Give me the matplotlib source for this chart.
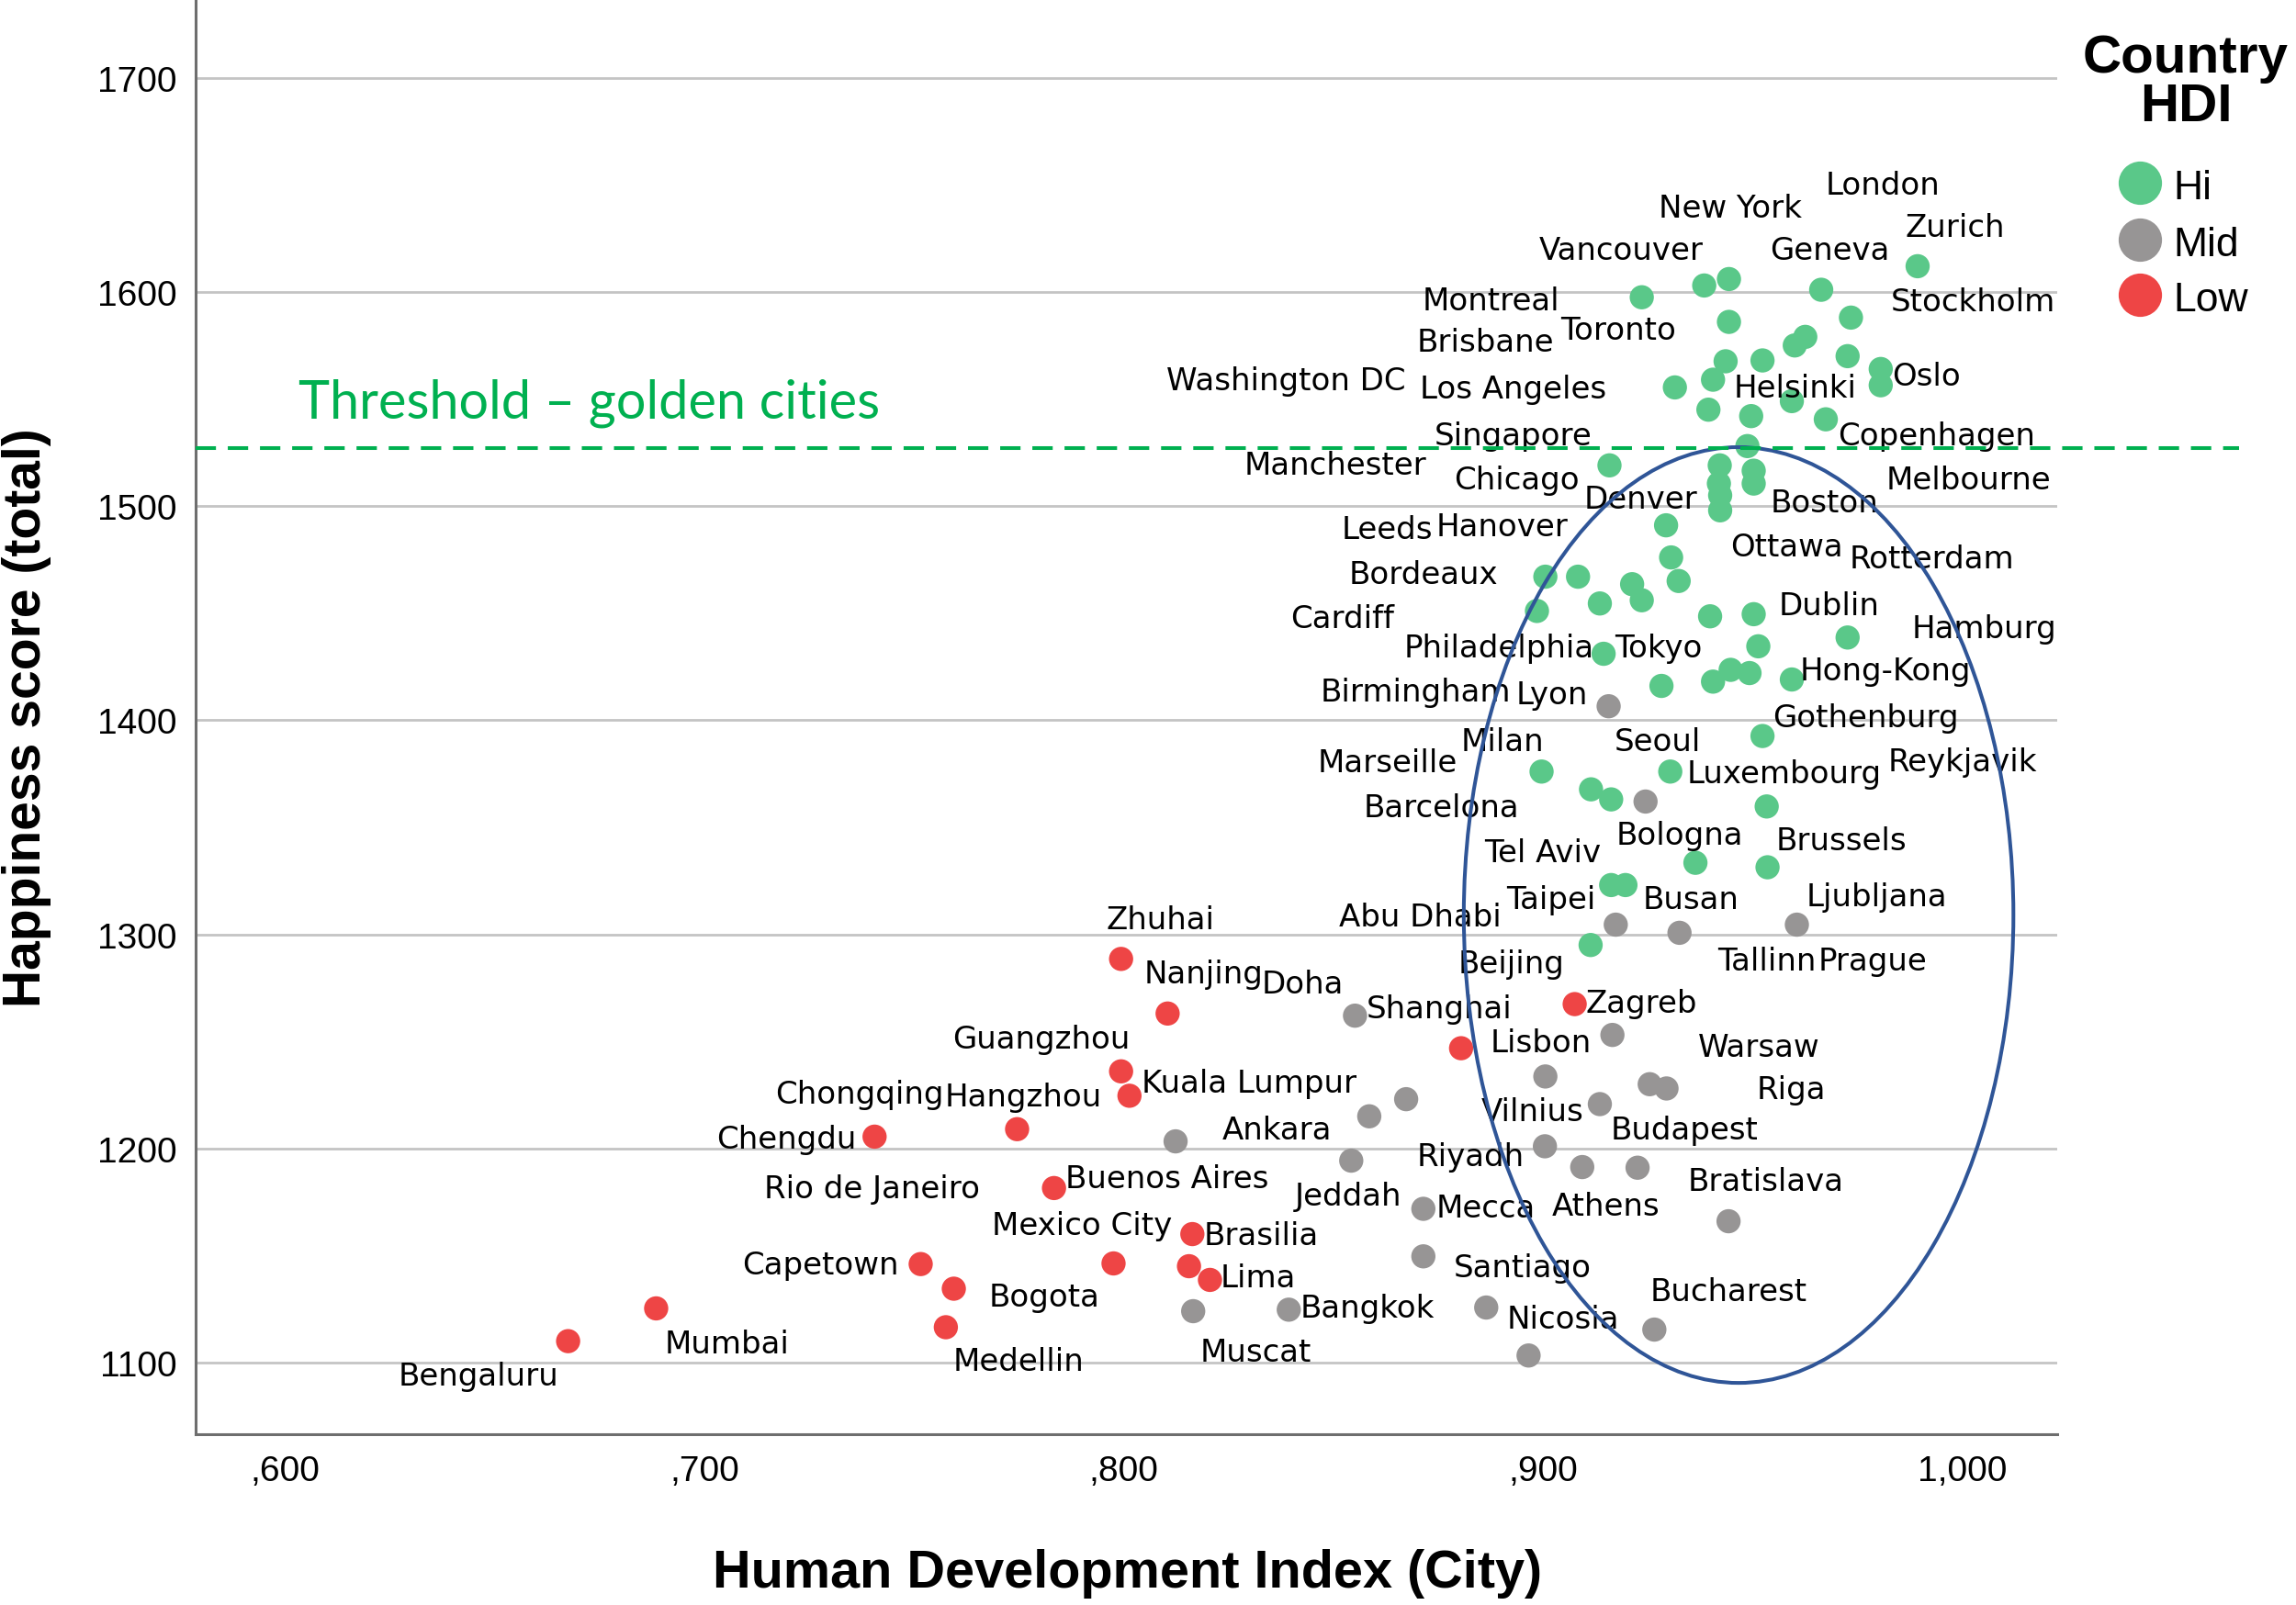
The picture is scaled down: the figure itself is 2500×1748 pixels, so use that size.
import matplotlib

matplotlib.use("Agg")
import matplotlib.pyplot as plt
from matplotlib.lines import Line2D
from matplotlib.patches import Ellipse

# ---- data ------------------------------------------------------------------
# points by country HDI group: city HDI (x) and happiness score (y)
hi_hdi = [0.9894, 0.9236, 0.9385, 0.9444, 0.9664, 0.9735, 0.9444, 0.9626, 0.9601,
          0.9436, 0.9524, 0.9727, 0.9806, 0.9806, 0.9315, 0.9406, 0.9594, 0.9395,
          0.9497, 0.9675, 0.9488, 0.9159, 0.9422, 0.9503, 0.9503, 0.9420, 0.9423,
          0.9423, 0.9294, 0.9306, 0.9324, 0.9006, 0.9084, 0.9213, 0.9236, 0.9136,
          0.8986, 0.9399, 0.9503, 0.9727, 0.9145, 0.9514, 0.9283, 0.9406, 0.9448,
          0.9493, 0.9594, 0.9524, 0.8997, 0.9304, 0.9115, 0.9163, 0.9534, 0.9364,
          0.9536, 0.9163, 0.9197, 0.9114]
hi_score = [1612, 1597.5, 1603, 1606, 1601, 1588, 1586, 1579, 1575,
            1567.6, 1568, 1570, 1564, 1556.4, 1555.4, 1559, 1549, 1545,
            1542, 1540.5, 1528, 1519, 1519, 1516.5, 1510.5, 1510.5, 1505,
            1498, 1491, 1476, 1465, 1467, 1467, 1463.5, 1456, 1454.5,
            1451, 1448.5, 1449.5, 1438.6, 1431, 1434.5, 1416, 1418, 1423.5,
            1422, 1419, 1392.6, 1376, 1376, 1367.7, 1363, 1359.7, 1333.4,
            1331.3, 1323, 1323, 1295]

mid_hdi = [0.9157, 0.9245, 0.9174, 0.9326, 0.9606, 0.8552, 0.9166, 0.9006, 0.8674,
           0.8586, 0.9255, 0.9295, 0.9136, 0.8124, 0.9005, 0.8543, 0.9094, 0.9226,
           0.8715, 0.9443, 0.8715, 0.8166, 0.8394, 0.8865, 0.9266, 0.8966]
mid_score = [1406.5, 1362, 1304.5, 1300.7, 1304.5, 1262, 1253, 1233.6, 1223,
             1215, 1230, 1228, 1220.7, 1203.3, 1201, 1194.3, 1191.3, 1191,
             1171.8, 1166, 1149.6, 1124, 1124.7, 1125.7, 1115.4, 1103.3]

low_hdi = [0.7994, 0.8105, 0.8805, 0.9076, 0.7994, 0.8014, 0.7746, 0.7406, 0.7834,
           0.8164, 0.7976, 0.8156, 0.8206, 0.7516, 0.7595, 0.7576, 0.6885, 0.6675]
low_score = [1288.5, 1263, 1246.8, 1267.4, 1236, 1224.6, 1209, 1205.5, 1181.5,
             1160, 1146.3, 1145, 1138.6, 1146, 1134.5, 1116.5, 1125.3, 1110]

# city names and where SPSS put each label (left edge, centre line)
city_names = [
    "London", "New York", "Zurich", "Vancouver", "Geneva", "Montreal", "Stockholm",
    "Toronto", "Brisbane", "Washington DC", "Los Angeles", "Helsinki", "Oslo",
    "Singapore", "Copenhagen", "Manchester", "Chicago", "Melbourne", "Denver",
    "Boston", "Leeds", "Hanover", "Ottawa", "Rotterdam", "Bordeaux", "Dublin",
    "Cardiff", "Hamburg", "Philadelphia", "Tokyo", "Hong-Kong", "Birmingham",
    "Lyon", "Gothenburg", "Milan", "Seoul", "Marseille", "Reykjavik", "Luxembourg",
    "Barcelona", "Bologna", "Tel Aviv", "Brussels", "Taipei", "Busan", "Ljubljana",
    "Abu Dhabi", "Zhuhai", "Beijing", "Tallinn", "Prague", "Nanjing", "Doha",
    "Shanghai", "Zagreb", "Guangzhou", "Lisbon", "Warsaw", "Chongqing", "Hangzhou",
    "Kuala Lumpur", "Riga", "Vilnius", "Ankara", "Budapest", "Chengdu", "Riyadh",
    "Rio de Janeiro", "Buenos Aires", "Bratislava", "Jeddah", "Mecca", "Athens",
    "Mexico City", "Brasilia", "Santiago", "Capetown", "Lima", "Bogota", "Bangkok",
    "Bucharest", "Nicosia", "Mumbai", "Medellin", "Muscat", "Bengaluru",
]
label_x = [
    0.9675, 0.9276, 0.9864, 0.8990, 0.9542, 0.8713, 0.9829,
    0.9042, 0.8699, 0.8101, 0.8706, 0.9455, 0.9832,
    0.8741, 0.9703, 0.8287, 0.8787, 0.9818, 0.9098,
    0.9542, 0.8520, 0.8745, 0.9448, 0.9731, 0.8538, 0.9563,
    0.8399, 0.9881, 0.8668, 0.9171, 0.9612, 0.8470,
    0.8935, 0.9549, 0.8804, 0.9171, 0.8462, 0.9822, 0.9343,
    0.8573, 0.9175, 0.8860, 0.9556, 0.8913, 0.9238, 0.9629,
    0.8514, 0.7958, 0.8797, 0.9416, 0.9657, 0.8049, 0.8329,
    0.8580, 0.9101, 0.7591, 0.8874, 0.9371, 0.7168, 0.7573,
    0.8042, 0.9510, 0.8853, 0.8234, 0.9161, 0.7028, 0.8699,
    0.7143, 0.7860, 0.9346, 0.8409, 0.8745, 0.9021,
    0.7685, 0.8192, 0.8787, 0.7091, 0.8231, 0.7678, 0.8420,
    0.9255, 0.8913, 0.6906, 0.7594, 0.8182, 0.6269,
]
label_y = [
    1650, 1639, 1630, 1619.5, 1619.5, 1596, 1595.5,
    1582, 1576.5, 1558.7, 1554.6, 1555.3, 1560.8,
    1532.8, 1532.8, 1519, 1512.3, 1512.3, 1503.4,
    1501.4, 1489, 1490.4, 1481, 1475.4, 1468, 1453.6,
    1447.4, 1442.7, 1433.8, 1433.8, 1423, 1413.3,
    1412, 1401, 1390, 1390, 1380, 1380.5, 1375,
    1359.4, 1346.4, 1338.2, 1343.7, 1316.4, 1316.4, 1317.7,
    1308.2, 1306.8, 1286.3, 1287.7, 1287.7, 1281.6, 1276.8,
    1265.2, 1268, 1251, 1249.5, 1247.4, 1225.6, 1224.2,
    1230.4, 1227.6, 1217.4, 1208.5, 1208.5, 1204.4, 1196.2,
    1181.2, 1186, 1184.6, 1177.8, 1172.4, 1173,
    1164.2, 1159.4, 1144.4, 1145.7, 1139.6, 1130.7, 1125.3,
    1133.4, 1120.5, 1108.9, 1100.7, 1104.8, 1093.9,
]

x_ticks = [0.6, 0.7, 0.8, 0.9, 1.0]
x_tick_labels = [",600", ",700", ",800", ",900", "1,000"]
y_ticks = [1100, 1200, 1300, 1400, 1500, 1600, 1700]

threshold = 1527
threshold_label = "Threshold \u2013 golden cities"
# the hand-drawn ellipse: centre, width, height in data units
ellipse_centre = (0.9467, 1309)
ellipse_size = (0.1311, 437)

groups = ["Hi", "Mid", "Low"]
colors = {"Hi": "#5AC889", "Mid": "#979595", "Low": "#EE4545"}

# ---- figure -----------------------------------------------------------------
fig = plt.figure(figsize=(25, 17.49), dpi=100)
ax = fig.add_axes([0.0853, 0.1063, 0.8107, 0.8927])

ax.set_xlim(0.5787, 1.0227)
ax.set_ylim(1066.5, 1736)

for y in y_ticks:
    ax.axhline(y, color="#C4C4C4", lw=2.0, zorder=1)

ax.scatter(hi_hdi, hi_score, s=360, color=colors["Hi"], edgecolors="none", zorder=3)
ax.scatter(mid_hdi, mid_score, s=360, color=colors["Mid"], edgecolors="none", zorder=3)
ax.scatter(low_hdi, low_score, s=360, color=colors["Low"], edgecolors="none", zorder=3)

for name, lx, ly in zip(city_names, label_x, label_y):
    ax.text(lx, ly, name, ha="left", va="center", fontsize=24.5,
            family="DejaVu Sans", color="black", zorder=4)

ax.add_patch(Ellipse(ellipse_centre, ellipse_size[0], ellipse_size[1],
                     fill=False, edgecolor="#2F5597", lw=2.9, zorder=5))

ax.plot([0.5787, 1.066], [threshold, threshold], color="#00B050", lw=2.9,
        linestyle=(0, (5.5, 3.2)), clip_on=False, zorder=5)
ax.text(0.6031, 1548.5, threshold_label, ha="left", va="center", fontsize=41.5,
        family="Lato", color="#00B050", zorder=5)

ax.set_xticks(x_ticks)
ax.set_xticklabels(x_tick_labels)
ax.set_yticks(y_ticks)
ax.tick_params(axis="both", length=0, labelsize=28, colors="black")
ax.tick_params(axis="x", pad=16)
ax.tick_params(axis="y", pad=15)
for lab in ax.get_xticklabels() + ax.get_yticklabels():
    lab.set_family("Liberation Sans")

for side in ("top", "right"):
    ax.spines[side].set_visible(False)
for side in ("left", "bottom"):
    ax.spines[side].set_color("#6E6E6E")
    ax.spines[side].set_linewidth(2.2)

fig.text(0.491, 0.020, "Human Development Index (City)", ha="center", va="center",
         fontsize=41.5, fontweight="bold", family="Liberation Sans")
fig.text(0.0115, 0.553, "Happiness score (total)", ha="center", va="center",
         rotation=90, fontsize=41, fontweight="bold", family="Liberation Sans")

# legend, drawn by hand to sit where SPSS put it
fig.text(0.952, 0.9634, "Country", ha="center", va="center", fontsize=42,
         fontweight="bold", family="Liberation Sans")
fig.text(0.952, 0.933, "HDI", ha="center", va="center", fontsize=42,
         fontweight="bold", family="Liberation Sans")
for grp, my in zip(groups, [0.8857, 0.8502, 0.8159]):
    fig.add_artist(Line2D([0.932], [my], marker="o", markersize=34, linestyle="none",
                          markerfacecolor=colors[grp], markeredgecolor="none"))
    fig.text(0.9467, my - 0.003, grp, ha="left", va="center", fontsize=32,
             family="Liberation Sans")

fig.savefig("out.png", dpi=100)
